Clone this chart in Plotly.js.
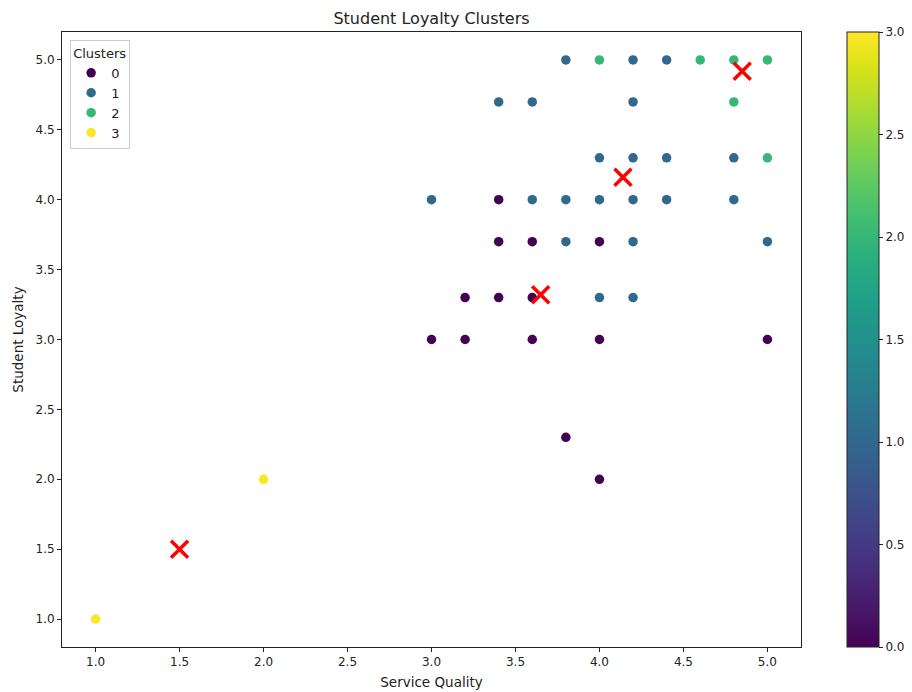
<!DOCTYPE html>
<html>
<head>
<meta charset="utf-8">
<script src="https://cdn.plot.ly/plotly-3.0.1.min.js"></script>
<style>html,body{margin:0;padding:0;background:#fff;}#chart{width:912px;height:692px;}</style>
</head>
<body>
<div id="chart"></div>
<script>
// Student data points
const serviceQuality = [3.8,4.0,4.2,4.4,4.6,4.8,5.0, 3.4,3.6,4.2,4.8, 4.0,4.2,4.4,4.8,5.0, 3.0,3.4,3.6,3.8,4.0,4.2,4.4,4.8, 3.4,3.6,3.8,4.0,4.2,5.0, 3.2,3.4,3.6,4.0,4.2, 3.0,3.2,3.6,4.0,5.0, 3.8,4.0,2.0,1.0];
const studentLoyalty = [5.0,5.0,5.0,5.0,5.0,5.0,5.0, 4.7,4.7,4.7,4.7, 4.3,4.3,4.3,4.3,4.3, 4.0,4.0,4.0,4.0,4.0,4.0,4.0,4.0, 3.7,3.7,3.7,3.7,3.7,3.7, 3.3,3.3,3.3,3.3,3.3, 3.0,3.0,3.0,3.0,3.0, 2.3,2.0,2.0,1.0];
const cluster = [1,2,1,1,2,2,2, 1,1,1,2, 1,1,1,1,2, 1,0,1,1,1,1,1,1, 0,0,1,0,1,1, 0,0,0,1,1, 0,0,0,0,0, 0,0,3,3];
// Cluster centroids
const centroidX = [3.65, 4.14, 4.85, 1.5];
const centroidY = [3.32, 4.16, 4.92, 1.5];
const clusterLabels = ["0","1","2","3"];
const axisTicks = [1.0,1.5,2.0,2.5,3.0,3.5,4.0,4.5,5.0];
const cbTicks = [0.0,0.5,1.0,1.5,2.0,2.5,3.0];

const traces = [];
clusterLabels.forEach((lab, k) => {
  const xs = [], ys = [], cs = [];
  for (let i = 0; i < cluster.length; i++) {
    if (cluster[i] === k) { xs.push(serviceQuality[i]); ys.push(studentLoyalty[i]); cs.push(cluster[i]); }
  }
  traces.push({
    type: 'scatter', mode: 'markers', x: xs, y: ys, name: lab,
    marker: {
      size: 9.5, color: cs, colorscale: 'Viridis', cmin: 0, cmax: 3,
      showscale: k === 0,
      colorbar: {
        x: 1.0622, xanchor: 'left', xpad: 0, y: 0, yanchor: 'bottom', ypad: 0, len: 1, lenmode: 'fraction',
        thickness: 32, outlinewidth: 1, outlinecolor: '#222',
        tickvals: cbTicks, ticktext: cbTicks.map(v => v.toFixed(1)),
        ticks: 'outside', ticklen: 4, tickcolor: '#222',
        tickfont: {family: 'DejaVu Sans', size: 12, color: '#222'}
      }
    },
    hoverinfo: 'x+y'
  });
});
traces.push({
  type: 'scatter', mode: 'markers', x: centroidX, y: centroidY, showlegend: false,
  marker: {symbol: 'x-thin', size: 17, line: {width: 3.5, color: 'red'}, color: 'red'}
});

const layout = {
  width: 912, height: 692,
  margin: {l: 62, r: 111, t: 32, b: 45, autoexpand: false},
  paper_bgcolor: '#fff', plot_bgcolor: '#fff',
  font: {family: 'DejaVu Sans', size: 12, color: '#222'},
  title: {text: 'Student Loyalty Clusters', x: 0.5, xref: 'paper', y: 1 - 18/692, yref: 'container', yanchor: 'middle', font: {family: 'DejaVu Sans', size: 16, color: '#222'}},
  xaxis: {
    range: [0.8, 5.2], tickvals: axisTicks, ticktext: axisTicks.map(v => v.toFixed(1)),
    showgrid: false, zeroline: false, showline: true, mirror: true, linecolor: '#222', linewidth: 1,
    ticks: 'outside', ticklen: 4, tickcolor: '#222', tickfont: {size: 12},
    title: {text: 'Service Quality', font: {size: 13.5}, standoff: 9}
  },
  yaxis: {
    range: [0.8, 5.2], tickvals: axisTicks, ticktext: axisTicks.map(v => v.toFixed(1)),
    showgrid: false, zeroline: false, showline: true, mirror: true, linecolor: '#222', linewidth: 1,
    ticks: 'outside', ticklen: 4, tickcolor: '#222', tickfont: {size: 12},
    title: {text: 'Student Loyalty', font: {size: 13.5}, standoff: 8}
  },
  legend: {
    title: {text: 'Clusters', font: {size: 13}}, x: 0.011, y: 0.987, xanchor: 'left', yanchor: 'top',
    bordercolor: '#ccc', borderwidth: 1, bgcolor: 'rgba(255,255,255,0.85)', font: {size: 13}
  },
  showlegend: true
};
Plotly.newPlot('chart', traces, layout, {displayModeBar: false, staticPlot: true});
</script>
</body>
</html>
